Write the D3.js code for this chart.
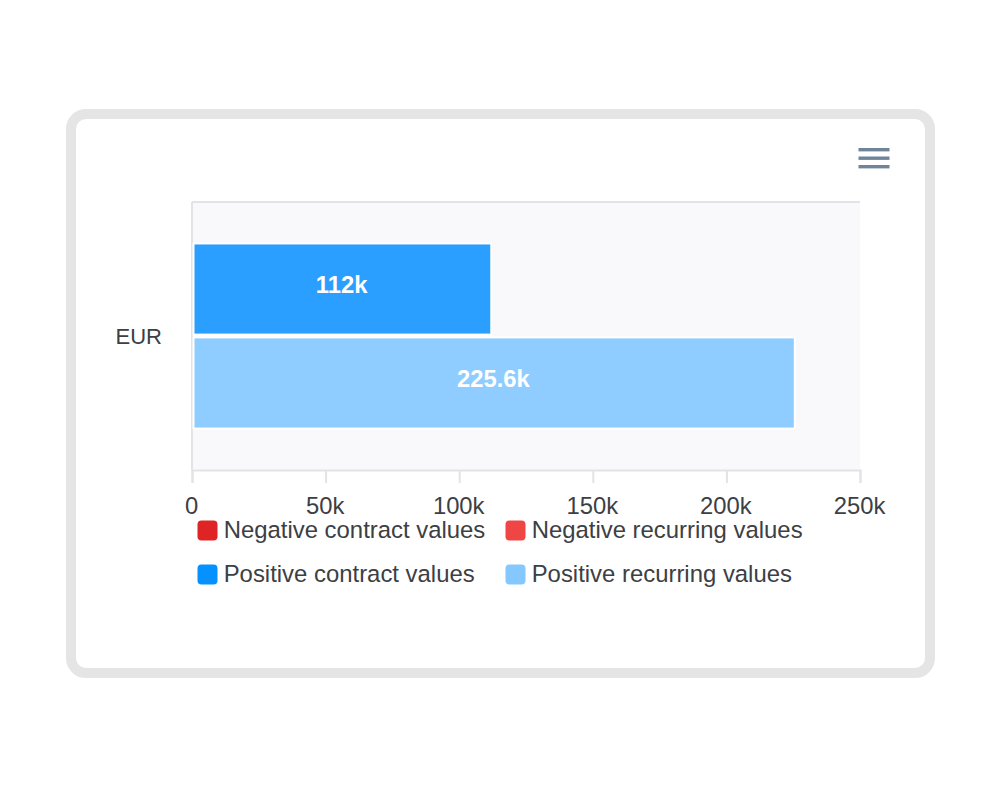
<!DOCTYPE html>
<html>
<head>
<meta charset="utf-8">
<script src="https://cdn.jsdelivr.net/npm/d3@7"></script>
<style>
  html, body { margin: 0; padding: 0; background: #fff; }
  text { font-family: "Liberation Sans", Arial, sans-serif; }
</style>
</head>
<body>
<svg id="chart" width="1000" height="800"></svg>
<script>
// DATA
const categories = ["EUR"];
const barSeries = ["Positive contract values", "Positive recurring values"];
const barValues = [112000, 225600];
const barLabels = ["112k", "225.6k"];
const barColors = ["#2b9fff", "#8fccff"];
const tickValues = [0, 50000, 100000, 150000, 200000, 250000];
const tickLabels = ["0", "50k", "100k", "150k", "200k", "250k"];
const legendNames = ["Negative contract values", "Negative recurring values", "Positive contract values", "Positive recurring values"];
const legendColors = ["#de2424", "#f04545", "#0591ff", "#85c8ff"];

// SETUP
const svg = d3.select("#chart");
const margin = { top: 202, left: 192, right: 860, bottom: 470 };
const textColor = "#3c4043";
const lineColor = "#e3e3e5";

// card
svg.append("rect")
    .attr("x", 71).attr("y", 114)
    .attr("width", 859).attr("height", 559)
    .attr("rx", 15)
    .attr("fill", "#fff")
    .attr("stroke", "#e5e5e6")
    .attr("stroke-width", 10);

// menu icon
const menuLines = svg.append("g");
[0, 1, 2].forEach(function (i) {
    menuLines.append("rect")
        .attr("x", 858.5).attr("y", 148 + i * 8.5)
        .attr("width", 31).attr("height", 3.4)
        .attr("fill", "#708499");
});

// SCALES
const x = d3.scaleLinear().domain([0, 250000]).range([margin.left, margin.right]);
const yCat = d3.scaleBand().domain(categories).range([margin.top, margin.bottom]).paddingOuter(0.224);
const ySeries = d3.scaleBand().domain(barSeries).range([0, yCat.bandwidth()]).paddingInner(0.03);

// plot background
svg.append("rect")
    .attr("x", margin.left).attr("y", margin.top)
    .attr("width", margin.right - margin.left)
    .attr("height", margin.bottom - margin.top)
    .attr("fill", "#f9f9fc");

// top border + left border
svg.append("line")
    .attr("x1", margin.left).attr("x2", margin.right)
    .attr("y1", margin.top).attr("y2", margin.top)
    .attr("stroke", lineColor).attr("stroke-width", 2);
svg.append("line")
    .attr("x1", margin.left).attr("x2", margin.left)
    .attr("y1", margin.top).attr("y2", margin.bottom)
    .attr("stroke", lineColor).attr("stroke-width", 2);

// x axis
const xAxis = svg.append("g")
    .attr("transform", "translate(0," + margin.bottom + ")")
    .call(d3.axisBottom(x)
        .tickValues(tickValues)
        .tickFormat(function (d, i) { return tickLabels[i]; })
        .tickSize(13)
        .tickPadding(14));
xAxis.selectAll("path").attr("stroke", lineColor).attr("stroke-width", 2);
xAxis.selectAll("line").attr("stroke", lineColor).attr("stroke-width", 2);
xAxis.selectAll("text")
    .attr("fill", textColor)
    .attr("dx", -1)
    .style("font-size", "23.8px");

// category label
svg.selectAll(".cat").data(categories).enter().append("text")
    .attr("class", "cat")
    .attr("x", 162)
    .attr("y", function (d) { return yCat(d) + yCat.bandwidth() / 2; })
    .attr("dy", "0.35em")
    .attr("text-anchor", "end")
    .attr("fill", textColor)
    .style("font-size", "22px")
    .text(function (d) { return d; });

// BARS
const bars = svg.selectAll(".bar").data(barValues).enter().append("rect")
    .attr("class", "bar")
    .attr("x", x(0) + 1.5)
    .attr("y", function (d, i) { return yCat("EUR") + ySeries(barSeries[i]); })
    .attr("width", function (d) { return x(d) - x(0) - 1.5; })
    .attr("height", ySeries.bandwidth())
    .attr("fill", function (d, i) { return barColors[i]; })
    .attr("stroke", "#fff")
    .attr("stroke-width", 2);

svg.selectAll(".bar-label").data(barValues).enter().append("text")
    .attr("class", "bar-label")
    .attr("x", function (d) { return (x(d) + x(0)) / 2; })
    .attr("y", function (d, i) { return yCat("EUR") + ySeries(barSeries[i]) + ySeries.bandwidth() / 2 - 4; })
    .attr("dy", "0.35em")
    .attr("text-anchor", "middle")
    .attr("fill", "#fff")
    .style("font-size", "23.8px")
    .style("font-weight", "bold")
    .text(function (d, i) { return barLabels[i]; });

// LEGEND
const legendX = d3.scaleOrdinal().domain([0, 1]).range([197, 505]);
const legendY = d3.scaleOrdinal().domain([0, 1]).range([530, 574]);
const legend = svg.selectAll(".legend").data(legendNames).enter().append("g")
    .attr("class", "legend")
    .attr("transform", function (d, i) {
        return "translate(" + legendX(i % 2) + "," + legendY(Math.floor(i / 2)) + ")";
    });
legend.append("rect")
    .attr("x", 0.5).attr("y", -9.5)
    .attr("width", 20).attr("height", 20)
    .attr("rx", 4)
    .attr("fill", function (d, i) { return legendColors[i]; });
legend.append("text")
    .attr("x", 26.7)
    .attr("dy", "0.35em")
    .attr("fill", textColor)
    .style("font-size", "23.9px")
    .text(function (d) { return d; });
</script>
</body>
</html>
